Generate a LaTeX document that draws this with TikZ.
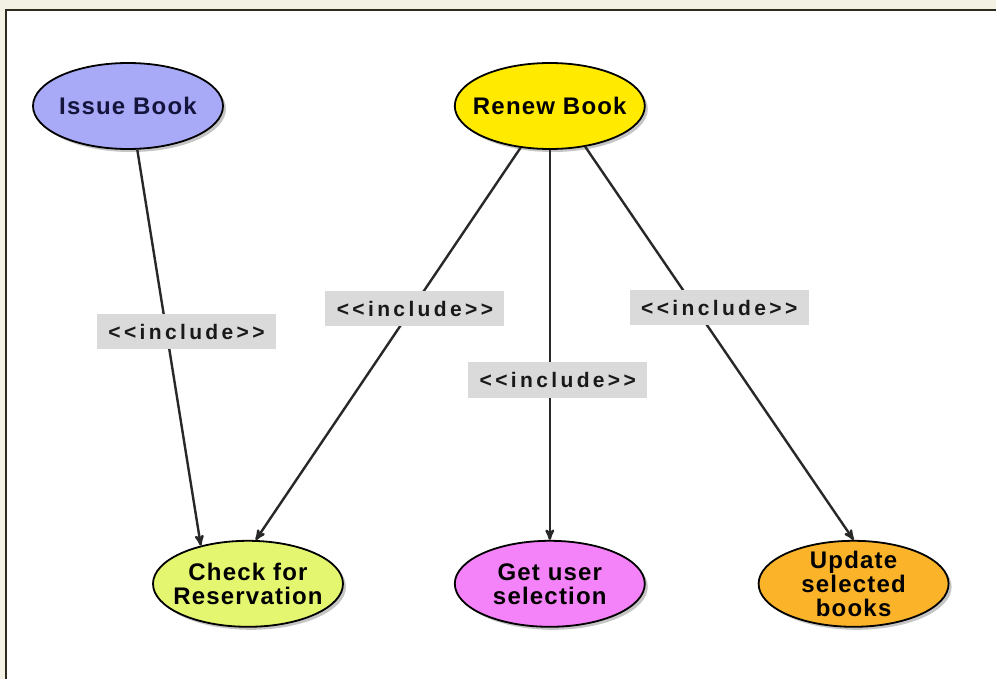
\documentclass[tikz,border=0pt]{standalone}
\usepackage{fontspec}
\setmainfont{Liberation Sans}
\newfontfamily\ucfont{Liberation Sans}[LetterSpace=5]
\newfontfamily\incfont{Liberation Sans}[LetterSpace=16]
\usetikzlibrary{arrows,shapes.geometric,shadows,positioning}

\definecolor{pagebg}{RGB}{243,241,227}
\definecolor{framecol}{RGB}{45,42,30}
\definecolor{issuecol}{RGB}{168,170,248}
\definecolor{renewcol}{RGB}{255,234,0}
\definecolor{checkcol}{RGB}{228,245,112}
\definecolor{getcol}{RGB}{244,130,248}
\definecolor{updatecol}{RGB}{251,180,42}
\definecolor{labelcol}{RGB}{218,218,218}
\definecolor{linecol}{RGB}{40,40,40}

\begin{document}
\begin{tikzpicture}[x=1pt,y=-1pt,->,>=stealth',
	every edge/.style={draw=linecol,line width=2.4pt}]
	\tikzset{usecase/.style={ellipse,draw=black,line width=1.8pt,minimum width=190pt,minimum height=86pt,
		inner xsep=-40pt,inner ysep=-40pt,align=center,font=\ucfont\bfseries\fontsize{24}{24}\selectfont,
		drop shadow={shadow xshift=3pt,shadow yshift=-3pt,fill=gray,opacity=.45}},
		inclabel/.style={fill=labelcol,minimum width=179pt,minimum height=35pt,inner sep=0pt,
		font=\incfont\bfseries\fontsize{21}{21}\selectfont,text=black!90}}
	
	\useasboundingbox (0,0) rectangle (996,679);
	\fill[pagebg] (0,0) rectangle (996,679);
	\fill[white] (6,10) rectangle (996,679);
	\draw[-,framecol,line width=2pt] (6,679) -- (6,10) -- (996,10);
	
	\node[usecase,fill=issuecol,text={rgb,255:red,20;green,20;blue,60}] (issue) at (128,106) {Issue Book};
	\node[usecase,fill=renewcol] (renew) [right=230pt of issue] {Renew Book};
	\node[usecase,fill=getcol] (get) [below=390pt of renew] {Get user\\selection};
	\node[usecase,fill=checkcol] (check) [left=110pt of get] {Check for\\Reservation};
	\node[usecase,fill=updatecol] (update) [right=112pt of get] {Update\\selected\\books};
	
	\path
	(issue.-78) edge node[inclabel,pos=0.46,xshift=20pt] {<<include>>} (check.141)
	(renew.-125) edge node[inclabel,pos=0.41,xshift=3pt] {<<include>>} (check.80)
	(renew.south) edge node[inclabel,pos=0.59,xshift=8pt] {<<include>>} (get.north)
	(renew.-49) edge node[inclabel,pos=0.41,xshift=24pt] {<<include>>} (update.north)
	;
\end{tikzpicture}
\end{document}
